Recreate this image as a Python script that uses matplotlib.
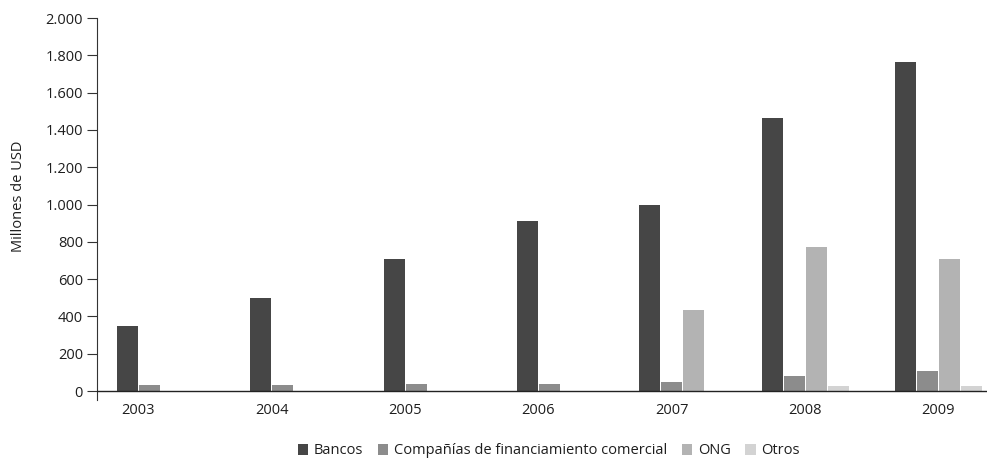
import matplotlib
matplotlib.use("Agg")
import matplotlib.pyplot as plt
from matplotlib.patches import Patch
from matplotlib.ticker import FuncFormatter

plt.rcParams['font.family'] = ['Open Sans', 'DejaVu Sans']

years = ["2003", "2004", "2005", "2006", "2007", "2008", "2009"]
series_names = ["Bancos", "Compañías de financiamiento comercial", "ONG", "Otros"]
bancos = [350, 500, 710, 910, 1000, 1465, 1765]
companias = [32, 33, 38, 40, 50, 82, 108]
ong = [0, 0, 0, 0, 435, 772, 708]
otros = [0, 0, 0, 0, 0, 27, 27]
y_ticks = [0, 200, 400, 600, 800, 1000, 1200, 1400, 1600, 1800, 2000]

colors = ["#464646", "#8c8c8c", "#b3b3b3", "#d3d3d3"]
text_color = "#1e1e1e"
fs = 10.5

fig = plt.figure(figsize=(9.89, 4.62), dpi=100)
ax = fig.add_axes([97 / 989, 1 - 400 / 462, (987 - 97) / 989, (400 - 18) / 462])

step = 0.165
width = 0.158
all_series = [bancos, companias, ong, otros]
for i, year in enumerate(years):
    # only the series with a value in this year are drawn, centred on the year
    present = [k for k, s in enumerate(all_series) if s[i] > 0]
    n = len(present)
    for j, k in enumerate(present):
        x = i + (j - (n - 1) / 2) * step
        ax.bar(x, all_series[k][i], width=width, color=colors[k], linewidth=0)

ax.set_xlim(-0.311, 6.364)
ax.set_ylim(-48, 2000)
ax.set_xticks(range(len(years)))
ax.set_xticklabels(years)
ax.tick_params(axis='x', length=0, pad=2, labelsize=fs, labelcolor=text_color)
ax.set_yticks(y_ticks)
ax.yaxis.set_major_formatter(FuncFormatter(lambda v, p: f"{int(v):,}".replace(",", ".")))
ax.tick_params(axis='y', direction='out', length=7, width=0.8, color="#333333",
               pad=3, labelsize=fs, labelcolor=text_color)

for side in ("top", "right", "bottom"):
    ax.spines[side].set_visible(False)
ax.spines['left'].set_color("#333333")
ax.spines['left'].set_linewidth(0.8)
ax.spines['left'].set_bounds(-48, 2000)
ax.axhline(0, color="#222222", linewidth=1.0, zorder=3)

ax.set_ylabel("Millones de USD", fontsize=fs, color=text_color)
ax.yaxis.set_label_coords(-0.0795, 0.533)

handles = [Patch(facecolor=c, edgecolor='none') for c in colors]
fig.legend(handles, series_names, loc='center', ncol=4,
           bbox_to_anchor=(549 / 989, 1 - 451 / 462), frameon=False,
           fontsize=fs, handlelength=0.7, handleheight=0.7,
           handletextpad=0.4, columnspacing=1.0, labelcolor=text_color)

fig.savefig("out.png", dpi=100)
